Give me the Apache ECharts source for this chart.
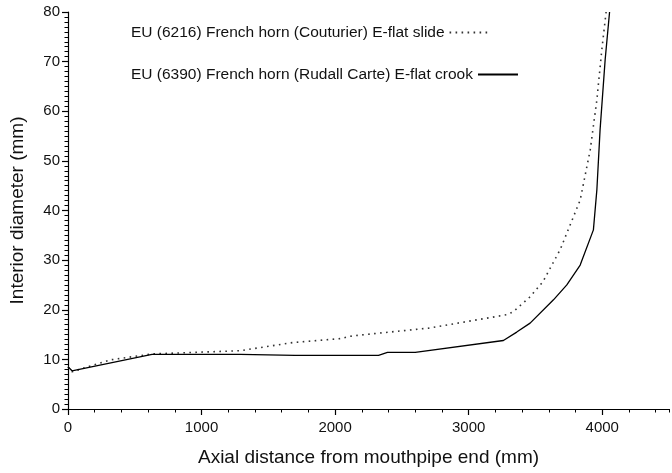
<!DOCTYPE html>
<html>
<head>
<meta charset="utf-8">
<script src="https://cdn.jsdelivr.net/npm/echarts@6/dist/echarts.min.js"></script>
<style>
  html, body { margin: 0; padding: 0; background: #fff; }
  #chart { width: 672px; height: 473px; }
</style>
</head>
<body>
<div id="chart"></div>
<script>
// Couturier E-flat slide (dotted)
const slideX = [0, 30, 317, 629, 1290, 1687, 2050, 2100, 2188, 2700, 3286, 3334, 3460, 3557, 3685, 3835, 3910, 3960, 3997, 4029];
const slideY = [8.5, 7.5, 9.9, 11.1, 11.75, 13.4, 14.2, 14.6, 14.9, 16.3, 19.0, 19.6, 22.6, 25.7, 32.1, 42.1, 52.2, 62.3, 72.4, 80];

// Rudall Carte E-flat crook (solid)
const crookX = [0, 30, 629, 1290, 1292, 1700, 2325, 2392, 2600, 3260, 3360, 3460, 3635, 3735, 3835, 3934, 3960, 3984, 4022, 4055];
const crookY = [8.5, 7.7, 11.0, 11.0, 10.6, 10.8, 10.8, 11.4, 11.4, 13.8, 15.5, 17.3, 22.0, 25.0, 29.0, 36.1, 44.2, 56.3, 70.4, 80];

const slideName = "EU (6216) French horn (Couturier) E-flat slide";
const crookName = "EU (6390) French horn (Rudall Carte) E-flat crook";

const font = "Liberation Sans, Arial, sans-serif";

function pairs(xs, ys) {
  return xs.map((x, i) => [x, ys[i]]);
}

const chart = echarts.init(document.getElementById("chart"));

const option = {
  animation: false,
  textStyle: { fontFamily: font },
  grid: { left: 68, right: 3, top: 12, bottom: 64 },
  legend: [
    {
      data: [slideName],
      left: 131,
      top: 24.5,
      padding: 0,
      align: "right",
      itemWidth: 38,
      itemHeight: 12,
      itemStyle: { opacity: 0 },
      textStyle: { fontFamily: font, fontSize: 15.5, color: "#111" },
    },
    {
      data: [crookName],
      left: 131,
      top: 66.5,
      padding: 0,
      align: "right",
      itemWidth: 40,
      itemHeight: 12,
      itemStyle: { opacity: 0 },
      textStyle: { fontFamily: font, fontSize: 15.5, color: "#111" },
    },
  ],
  xAxis: [
    {
      type: "value",
      min: 0,
      max: 4500,
      interval: 1000,
      name: "Axial distance from mouthpipe end (mm)",
      nameLocation: "middle",
      nameGap: 39,
      nameTextStyle: { fontFamily: font, fontSize: 19, color: "#111" },
      axisLine: { lineStyle: { color: "#000", width: 1.2 } },
      axisTick: { length: 6, lineStyle: { color: "#000", width: 1.2 } },
      axisLabel: {
        fontFamily: font,
        fontSize: 15,
        color: "#111",
        margin: 11,
        showMaxLabel: false,
        formatter: (v) => String(v),
      },
      splitLine: { show: false },
    },
    {
      // minor ticks every 200 mm
      type: "value",
      position: "bottom",
      min: 0,
      max: 4500,
      interval: 200,
      axisLine: { show: false },
      axisTick: { length: 3.5, lineStyle: { color: "#000", width: 1 } },
      axisLabel: { show: false },
      splitLine: { show: false },
    },
  ],
  yAxis: {
    type: "value",
    min: 0,
    max: 80,
    interval: 10,
    name: "Interior diameter (mm)",
    nameLocation: "middle",
    nameGap: 41,
    nameTextStyle: { fontFamily: font, fontSize: 19, color: "#111" },
    axisLine: { show: true, lineStyle: { color: "#000", width: 1.2 } },
    axisTick: { show: true, length: 6, lineStyle: { color: "#000", width: 1.2 } },
    minorTick: { show: true, splitNumber: 10, length: 3.5, lineStyle: { color: "#000", width: 1 } },
    axisLabel: { fontFamily: font, fontSize: 15, color: "#111", margin: 8 },
    splitLine: { show: false },
  },
  series: [
    {
      name: slideName,
      type: "line",
      data: pairs(slideX, slideY),
      symbol: "none",
      clip: true,
      lineStyle: { color: "#333", width: 1.6, type: [1.6, 4.4] },
      itemStyle: { color: "#333" },
    },
    {
      name: crookName,
      type: "line",
      data: pairs(crookX, crookY),
      symbol: "none",
      clip: true,
      lineStyle: { color: "#000", width: 1.3 },
      itemStyle: { color: "#000" },
    },
  ],
};

chart.setOption(option);
</script>
</body>
</html>
